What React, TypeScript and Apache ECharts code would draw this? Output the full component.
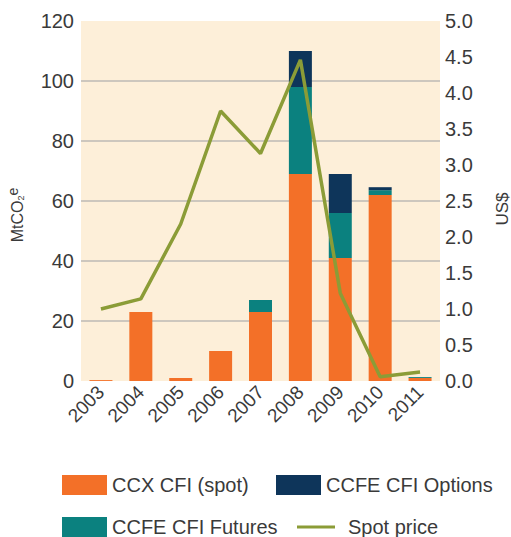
import React, { useEffect, useRef } from "react";
import * as echarts from "echarts";

const years = ["2003", "2004", "2005", "2006", "2007", "2008", "2009", "2010", "2011"];
const ccxSpot = [0.3, 23, 1, 10, 23, 69, 41, 62, 1];
const ccfeFutures = [0, 0, 0, 0, 4, 29, 15, 1.6, 0.3];
const ccfeOptions = [0, 0, 0, 0, 0, 12, 13, 1, 0];
const spotPrice = [1.0, 1.14, 2.18, 3.75, 3.16, 4.46, 1.22, 0.06, 0.125];
const leftTicks = [0, 120, 20];
const rightTicks = [0, 5, 0.5];

const FONT = "'Liberation Sans', Arial, sans-serif";
const TXT = "#3a3a3a";

export default function App() {
  const ref = useRef<HTMLDivElement>(null);
  useEffect(() => {
    if (!ref.current) return;
    const chart = echarts.init(ref.current, null, { renderer: "svg" });
    const legendBase = {
      orient: "horizontal",
      itemWidth: 45,
      itemHeight: 20,
      selectedMode: false,
      padding: 0,
      textStyle: { fontSize: 20, color: TXT, fontFamily: FONT },
    };
    chart.setOption({
      animation: false,
      textStyle: { fontFamily: FONT },
      grid: {
        left: 81,
        right: 71,
        top: 21,
        bottom: 156,
        show: true,
        backgroundColor: "#FDEFD9",
        borderWidth: 0,
        containLabel: false,
      },
      legend: [
        { ...legendBase, left: 62, top: 475, data: [{ name: "CCX CFI (spot)", icon: "rect" }] },
        { ...legendBase, left: 276, top: 475, data: [{ name: "CCFE CFI Options", icon: "rect" }] },
        { ...legendBase, left: 62, top: 517, data: [{ name: "CCFE CFI Futures", icon: "rect" }] },
        {
          ...legendBase,
          left: 297,
          top: 517,
          itemWidth: 38,
          itemHeight: 20,
          data: [{ name: "Spot price", icon: "path://M0,8.5L38,8.5L38,11.5L0,11.5Z" }],
          textStyle: { ...legendBase.textStyle, padding: [0, 0, 0, 8] },
        },
      ],
      xAxis: {
        type: "category",
        data: years,
        axisLine: { show: false },
        axisTick: { show: false },
        axisLabel: {
          rotate: 45,
          fontSize: 19,
          color: TXT,
          margin: 8,
          fontFamily: FONT,
        },
      },
      yAxis: [
        {
          type: "value",
          min: leftTicks[0],
          max: leftTicks[1],
          interval: leftTicks[2],
          axisLine: { show: false },
          axisTick: { show: false },
          axisLabel: { fontSize: 20, color: TXT, margin: 7, fontFamily: FONT },
          splitLine: {
            show: true,
            showMinLine: false,
            showMaxLine: false,
            lineStyle: { color: "#BDBAB4", width: 1.5 },
          },
        },
        {
          type: "value",
          min: rightTicks[0],
          max: rightTicks[1],
          interval: rightTicks[2],
          position: "right",
          axisLine: { show: false },
          axisTick: { show: false },
          splitLine: { show: false },
          axisLabel: {
            fontSize: 20,
            color: TXT,
            margin: 5,
            fontFamily: FONT,
            formatter: (v: number) => v.toFixed(1),
          },
        },
      ],
      graphic: [
        {
          type: "text",
          x: 17,
          y: 215,
          rotation: Math.PI / 2,
          style: {
            text: "MtCO{s|2}{e|e}",
            fill: TXT,
            font: `16px ${FONT}`,
            align: "center",
            verticalAlign: "middle",
            rich: {
              s: { fontSize: 9, fill: TXT, padding: [8, 0, 0, 0], fontFamily: FONT },
              e: { fontSize: 14, fill: TXT, padding: [0, 0, 8, 0], fontFamily: FONT },
            },
          },
        },
        {
          type: "text",
          x: 502,
          y: 209,
          rotation: Math.PI / 2,
          style: {
            text: "US$",
            fill: TXT,
            font: `17px ${FONT}`,
            align: "center",
            verticalAlign: "middle",
          },
        },
      ],
      series: [
        {
          name: "CCX CFI (spot)",
          type: "bar",
          stack: "vol",
          data: ccxSpot,
          barWidth: 23,
          itemStyle: { color: "#F37028" },
        },
        {
          name: "CCFE CFI Futures",
          type: "bar",
          stack: "vol",
          data: ccfeFutures,
          barWidth: 23,
          itemStyle: { color: "#0B817F" },
        },
        {
          name: "CCFE CFI Options",
          type: "bar",
          stack: "vol",
          data: ccfeOptions,
          barWidth: 23,
          itemStyle: { color: "#0E355A" },
        },
        {
          name: "Spot price",
          type: "line",
          yAxisIndex: 1,
          data: spotPrice,
          symbol: "none",
          z: 5,
          lineStyle: { color: "#8B9C37", width: 3.5 },
          itemStyle: { color: "#8B9C37" },
        },
      ],
    });
    return () => chart.dispose();
  }, []);
  return <div ref={ref} style={{ width: 511, height: 537, position: "absolute", left: 0, top: 0 }} />;
}
